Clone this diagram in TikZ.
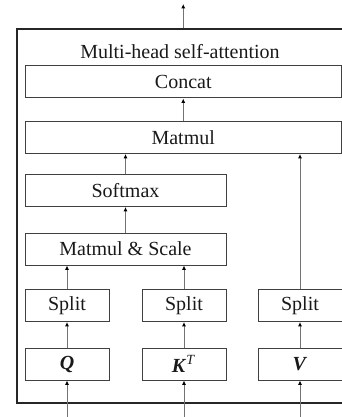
\documentclass[tikz,border=0pt]{standalone}
\usepackage{fontspec}
\setmainfont{Liberation Serif}
\usepackage{tikz}
\usetikzlibrary{arrows.meta, positioning, calc}

\begin{document}
\begin{tikzpicture}[x=0.5pt, y=-0.5pt, every node/.style={font=\fontsize{10pt}{12pt}\selectfont, text=black!90},
    opbox/.style={draw=black!75, line width=0.5pt, minimum height=16pt, inner sep=0pt},
    arr/.style={draw=black!55, line width=0.5pt, -{Latex[length=2.2pt, width=2pt, black]}}]
    \useasboundingbox (0,0) rectangle (342,417);
    \clip (0,0) rectangle (342,417);
    \node[draw=black!85, line width=0.6pt, minimum width=167.5pt, minimum height=187pt] (mha) at (184.5,216) {};
    \node (title) at (180,52) {Multi-head self-attention};
    \node[opbox, minimum width=158.25pt] (concat) at (183.25,82) {Concat};
    \node[opbox, minimum width=158.25pt] (matmul) at (183.25,137.5) {Matmul};
    \node[opbox, minimum width=100.5pt] (softmax) at (125.5,190.5) {Softmax};
    \node[opbox, minimum width=100.5pt] (ms) at (125.5,249) {Matmul \& Scale};
    \node[opbox, minimum width=42pt] (splitq) at (67,305.5) {Split};
    \node[opbox, minimum width=42pt] (splitk) at (184,305.5) {Split};
    \node[opbox, minimum width=42pt] (splitv) at (300,305.5) {Split};
    \node[opbox, minimum width=42pt] (q) at (67,364) {\textbf{\textit{Q}}};
    \node[opbox, minimum width=42pt] (k) at (184,364) {\textbf{\textit{K}}\textsuperscript{\textit{T}}};
    \node[opbox, minimum width=42pt] (v) at (300,364) {\textbf{\textit{V}}};
    \coordinate (out) at (183.25,4);
    \coordinate (qin) at (67,420);
    \coordinate (kin) at (184,420);
    \coordinate (vin) at (300,420);
    % inputs
    \draw[arr] (qin) -- (q);
    \draw[arr] (kin) -- (k);
    \draw[arr] (vin) -- (v);
    \draw[arr] (q) -- (splitq);
    \draw[arr] (k) -- (splitk);
    \draw[arr] (v) -- (splitv);
    % attention
    \draw[arr] (splitq.north) -- (splitq.north |- ms.south);
    \draw[arr] (splitk.north) -- (splitk.north |- ms.south);
    \draw[arr] (ms) -- (softmax);
    \draw[arr] (softmax.north) -- (softmax.north |- matmul.south);
    \draw[arr] (splitv.north) -- (splitv.north |- matmul.south);
    \draw[arr] (matmul) -- (concat);
    \draw[arr] (mha.north -| concat) -- (out);
\end{tikzpicture}
\end{document}
